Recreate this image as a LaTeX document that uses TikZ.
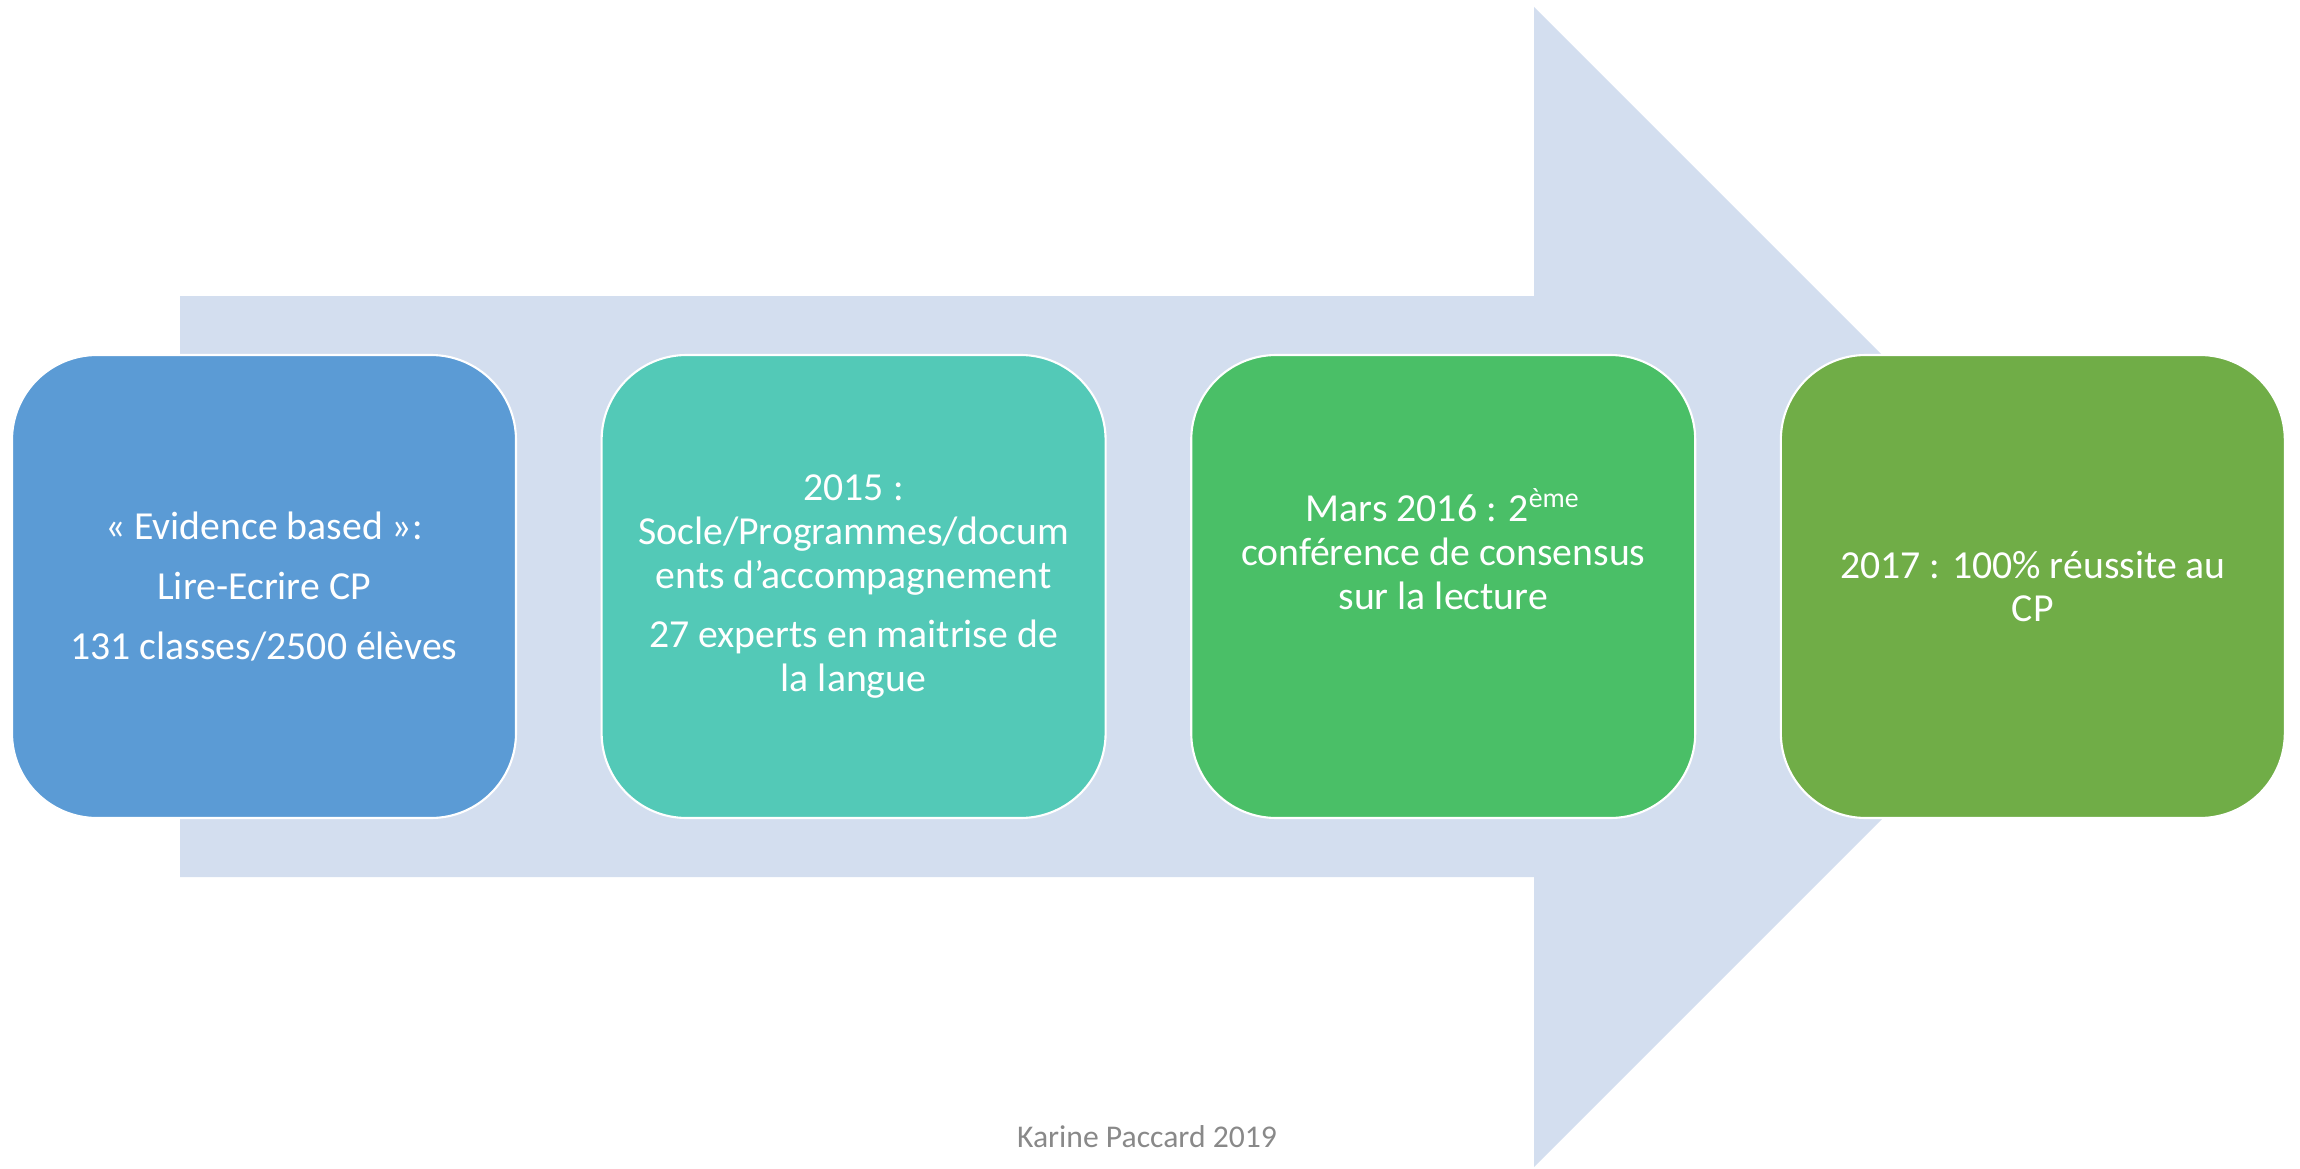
\documentclass[tikz,border=0pt]{standalone}
\usepackage{fontspec}
\setmainfont{Carlito}
\usetikzlibrary{positioning}
\definecolor{arrowbg}{RGB}{211,222,239}
\definecolor{boxblue}{RGB}{91,155,213}
\definecolor{boxteal}{RGB}{83,201,183}
\definecolor{boxgreen}{RGB}{74,191,103}
\definecolor{boxolive}{RGB}{112,173,71}
\definecolor{footgray}{RGB}{137,137,137}

\begin{document}
\begin{tikzpicture}[
  stage/.style={rectangle, rounded corners=0.85cm, draw=white, line width=0.6pt,
    minimum width=5.04cm, minimum height=4.63cm, align=center, text=white,
    font=\fontsize{11.3}{12.5}\selectfont},
  node distance=0.835cm]
  \useasboundingbox (0,0) rectangle (23,11.68);
  \fill[arrowbg] (1.80,8.72) -- (15.34,8.72) -- (15.34,11.61) -- (21.14,5.81)
    -- (15.34,0.01) -- (15.34,2.91) -- (1.80,2.91) -- cycle;
  \node[stage, fill=boxblue] (evidence) at (2.64,5.815)
    {« Evidence based »:\\[4.5pt] Lire-Ecrire CP\\[4.5pt] 131 classes/2500 élèves};
  \node[stage, fill=boxteal, right=of evidence] (socle)
    {2015 :\\ Socle/Programmes/docum\\ ents d’accompagnement\\[4.5pt]
     27 experts en maitrise de\\ la langue};
  \node[stage, fill=boxgreen, right=of socle] (consensus)
    {Mars 2016 : 2\textsuperscript{ème}\\ conférence de consensus\\ sur la lecture\\[9pt]~};
  \node[stage, fill=boxolive, right=of consensus] (reussite)
    {2017 : 100\% réussite au\\ CP};
  \node[text=footgray, font=\fontsize{9}{10}\selectfont] (credit) at (11.47,0.31)
    {Karine Paccard 2019};
\end{tikzpicture}
\end{document}
